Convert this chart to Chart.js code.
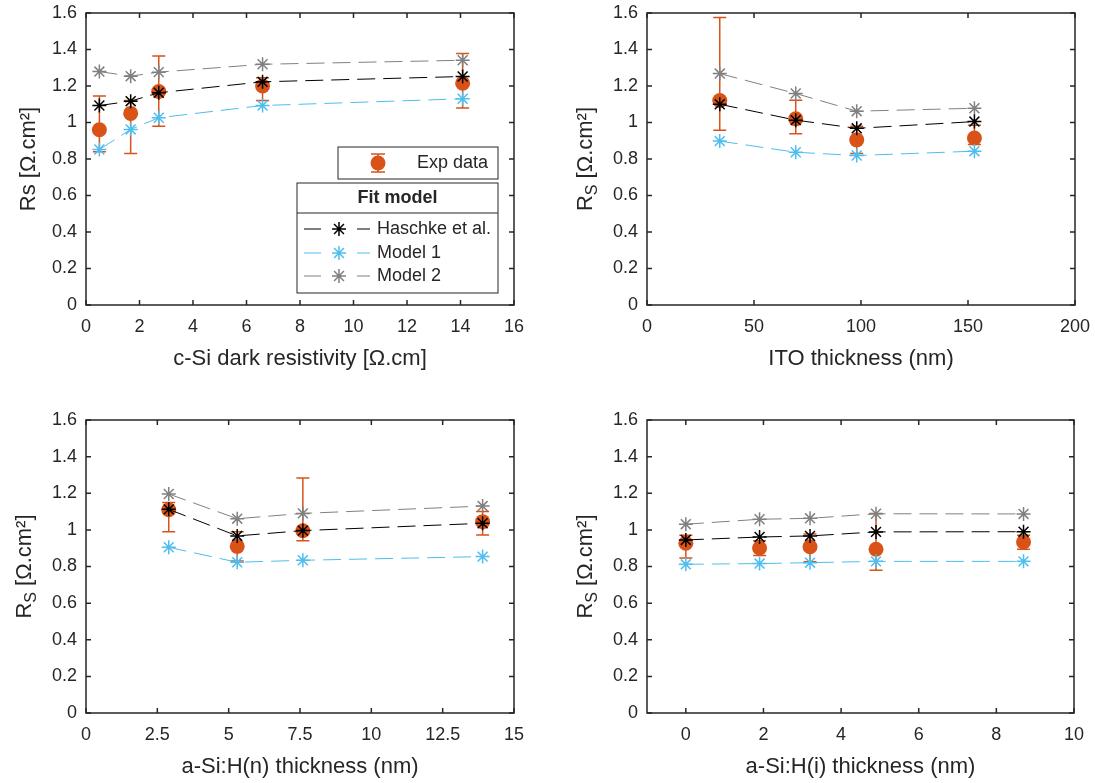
<!DOCTYPE html>
<html>
<head>
<meta charset="utf-8">
<script src="https://cdn.jsdelivr.net/npm/chart.js@4.4.1/dist/chart.umd.min.js"></script>
<style>
  html, body { margin: 0; padding: 0; background: #fff; overflow: hidden; }
  .stage { position: relative; width: 1095px; height: 783px; overflow: hidden; }
  canvas { position: absolute; }
</style>
</head>
<body>
<div class="stage">
  <canvas id="c1" width="547" height="391" style="left:0;top:0"></canvas>
  <canvas id="c2" width="548" height="391" style="left:547px;top:0"></canvas>
  <canvas id="c3" width="547" height="392" style="left:0;top:391px"></canvas>
  <canvas id="c4" width="548" height="392" style="left:547px;top:391px"></canvas>
</div>
<script>
// shared y axis
const yTicks = [0, 0.2, 0.4, 0.6, 0.8, 1, 1.2, 1.4, 1.6];

// c-Si dark resistivity
const rhoX = [0.5, 1.67, 2.72, 6.6, 14.08];
const rhoExp = [0.96, 1.05, 1.17, 1.2, 1.215];
const rhoExpLow = [0.84, 0.83, 0.98, 1.12, 1.08];
const rhoExpHigh = [1.145, 1.12, 1.365, 1.245, 1.378];
const rhoHaschke = [1.093, 1.117, 1.163, 1.223, 1.252];
const rhoModel1 = [0.852, 0.962, 1.026, 1.093, 1.13];
const rhoModel2 = [1.279, 1.254, 1.276, 1.319, 1.341];
const rhoTicks = [0, 2, 4, 6, 8, 10, 12, 14, 16];

// ITO thickness
const itoX = [34, 69.5, 98, 153];
const itoExp = [1.12, 1.02, 0.905, 0.915];
const itoExpLow = [0.958, 0.938, 0.83, 0.88];
const itoExpHigh = [1.575, 1.122, 0.98, 0.985];
const itoHaschke = [1.1, 1.013, 0.968, 1.005];
const itoModel1 = [0.898, 0.837, 0.819, 0.843];
const itoModel2 = [1.268, 1.159, 1.062, 1.078];
const itoTicks = [0, 50, 100, 150, 200];

// a-Si:H(n) thickness
const nX = [2.9, 5.3, 7.6, 13.9];
const nExp = [1.11, 0.91, 0.995, 1.045];
const nExpLow = [0.99, 0.83, 0.94, 0.972];
const nExpHigh = [1.15, 0.99, 1.283, 1.101];
const nHaschke = [1.112, 0.967, 0.996, 1.036];
const nModel1 = [0.905, 0.823, 0.834, 0.854];
const nModel2 = [1.196, 1.061, 1.09, 1.13];
const nTicks = [0, 2.5, 5, 7.5, 10, 12.5, 15];

// a-Si:H(i) thickness
const iX = [0, 1.9, 3.2, 4.9, 8.7];
const iExp = [0.927, 0.901, 0.908, 0.894, 0.934];
const iExpLow = [0.847, 0.86, 0.826, 0.779, 0.894];
const iExpHigh = [0.97, 0.94, 0.978, 1.09, 0.97];
const iHaschke = [0.945, 0.961, 0.967, 0.989, 0.99];
const iModel1 = [0.812, 0.816, 0.821, 0.828, 0.828];
const iModel2 = [1.031, 1.058, 1.063, 1.088, 1.087];
const iTicks = [0, 2, 4, 6, 8, 10];

const FONT = '"Liberation Sans", Arial, Helvetica, sans-serif';
const AXIS_COLOR = '#262626';
const EXP_COLOR = '#D95319';
const HASCHKE_COLOR = '#000000';
const MODEL1_COLOR = '#4DBEEE';
const MODEL2_COLOR = '#808080';
const TICK_SIZE = 18;
const LABEL_SIZE = 22;

const panels = [
  {
    canvas: 'c1', xs: rhoX, exp: rhoExp, low: rhoExpLow, high: rhoExpHigh,
    haschke: rhoHaschke, model1: rhoModel1, model2: rhoModel2,
    xMin: 0, xMax: 16, xTicks: rhoTicks,
    xTitle: 'c-Si dark resistivity [Ω.cm]',
    yTitle: [{ text: 'Rs [Ω.cm²]' }], yTitleGap: 51,
    legend: true,
    area: { left: 86, right: 514, top: 13, bottom: 305 },
  },
  {
    canvas: 'c2', xs: itoX, exp: itoExp, low: itoExpLow, high: itoExpHigh,
    haschke: itoHaschke, model1: itoModel1, model2: itoModel2,
    xMin: 0, xMax: 200, xTicks: itoTicks,
    xTitle: 'ITO thickness (nm)',
    yTitle: [{ text: 'R' }, { text: 'S', sub: true }, { text: ' [Ω.cm²]' }], yTitleGap: 55,
    legend: false,
    area: { left: 100, right: 528, top: 13, bottom: 305 },
  },
  {
    canvas: 'c3', xs: nX, exp: nExp, low: nExpLow, high: nExpHigh,
    haschke: nHaschke, model1: nModel1, model2: nModel2,
    xMin: 0, xMax: 15, xTicks: nTicks,
    xTitle: 'a-Si:H(n) thickness (nm)',
    yTitle: [{ text: 'R' }, { text: 'S', sub: true }, { text: ' [Ω.cm²]' }], yTitleGap: 55,
    legend: false,
    area: { left: 86, right: 514, top: 29, bottom: 322 },
  },
  {
    canvas: 'c4', xs: iX, exp: iExp, low: iExpLow, high: iExpHigh,
    haschke: iHaschke, model1: iModel1, model2: iModel2,
    xMin: -1, xMax: 10, xTicks: iTicks,
    xTitle: 'a-Si:H(i) thickness (nm)',
    yTitle: [{ text: 'R' }, { text: 'S', sub: true }, { text: ' [Ω.cm²]' }], yTitleGap: 55,
    legend: false,
    area: { left: 100, right: 527, top: 29, bottom: 322 },
  },
];

const toPoints = (xs, ys) => xs.map((x, i) => ({ x, y: ys[i] }));

const fitDataset = (label, xs, ys, color) => ({
  label,
  data: toPoints(xs, ys),
  showLine: true,
  borderColor: color,
  backgroundColor: color,
  borderWidth: 1,
  borderDash: [18, 8],
  pointStyle: 'star',
  pointRadius: 7,
  pointBorderWidth: 1.5,
  pointBorderColor: color,
  pointBackgroundColor: color,
  order: 1,
});

const drawStar = (ctx, color, x, y) => {
  ctx.strokeStyle = color;
  ctx.fillStyle = color;
  ctx.lineWidth = 1.5;
  Chart.helpers.drawPoint(ctx, { pointStyle: 'star', radius: 7, rotation: 0, borderWidth: 1.5 }, x, y);
};

const drawLegend = (ctx, area) => {
  const right = area.right - 16;
  const expLeft = right - 160;
  const fitLeft = right - 201;

  ctx.save();
  ctx.lineWidth = 1;
  ctx.strokeStyle = AXIS_COLOR;
  ctx.fillStyle = '#fff';
  ctx.fillRect(expLeft, area.top + 134, right - expLeft, 32);
  ctx.strokeRect(expLeft, area.top + 134, right - expLeft, 32);
  ctx.fillRect(fitLeft, area.top + 170, right - fitLeft, 110);
  ctx.strokeRect(fitLeft, area.top + 170, right - fitLeft, 110);
  ctx.beginPath();
  ctx.moveTo(fitLeft, area.top + 200);
  ctx.lineTo(right, area.top + 200);
  ctx.stroke();

  // exp data entry
  const mx = expLeft + 40;
  const my = area.top + 150;
  ctx.strokeStyle = EXP_COLOR;
  ctx.lineWidth = 1.5;
  ctx.beginPath();
  ctx.moveTo(mx, my - 9); ctx.lineTo(mx, my + 9);
  ctx.moveTo(mx - 7, my - 9); ctx.lineTo(mx + 7, my - 9);
  ctx.moveTo(mx - 7, my + 9); ctx.lineTo(mx + 7, my + 9);
  ctx.stroke();
  ctx.fillStyle = EXP_COLOR;
  ctx.beginPath();
  ctx.arc(mx, my, 7.5, 0, Math.PI * 2);
  ctx.fill();

  ctx.fillStyle = AXIS_COLOR;
  ctx.textBaseline = 'middle';
  ctx.textAlign = 'left';
  ctx.font = `${TICK_SIZE}px ${FONT}`;
  ctx.fillText('Exp data', expLeft + 79, my);

  ctx.textAlign = 'center';
  ctx.font = `bold ${TICK_SIZE}px ${FONT}`;
  ctx.fillText('Fit model', (fitLeft + right) / 2, area.top + 185);

  const entries = [
    ['Haschke et al.', HASCHKE_COLOR, 216],
    ['Model 1', MODEL1_COLOR, 240],
    ['Model 2', MODEL2_COLOR, 263],
  ];
  entries.forEach(([label, color, dy]) => {
    const y = area.top + dy;
    ctx.strokeStyle = color;
    ctx.lineWidth = 1;
    ctx.beginPath();
    ctx.moveTo(fitLeft + 7, y); ctx.lineTo(fitLeft + 24, y);
    ctx.moveTo(fitLeft + 60, y); ctx.lineTo(fitLeft + 73, y);
    ctx.stroke();
    drawStar(ctx, color, fitLeft + 42, y);
    ctx.fillStyle = AXIS_COLOR;
    ctx.textAlign = 'left';
    ctx.font = `${TICK_SIZE}px ${FONT}`;
    ctx.fillText(label, fitLeft + 80, y);
  });
  ctx.restore();
};

const drawYTitle = (ctx, parts, x, y) => {
  ctx.save();
  ctx.translate(x, y);
  ctx.rotate(-Math.PI / 2);
  ctx.fillStyle = AXIS_COLOR;
  ctx.textBaseline = 'alphabetic';
  ctx.textAlign = 'left';
  const fontFor = (p) => `${p.sub ? 16 : LABEL_SIZE}px ${FONT}`;
  const widths = parts.map((p) => {
    ctx.font = fontFor(p);
    return ctx.measureText(p.text).width;
  });
  let cursor = -widths.reduce((a, b) => a + b, 0) / 2;
  parts.forEach((p, i) => {
    ctx.font = fontFor(p);
    ctx.fillText(p.text, cursor, p.sub ? 5 : 0);
    cursor += widths[i];
  });
  ctx.restore();
};

const axesPlugin = (panel) => ({
  id: 'matlabAxes',
  beforeDatasetsDraw(chart) {
    const { ctx, scales: { x, y } } = chart;
    ctx.save();
    ctx.strokeStyle = EXP_COLOR;
    ctx.lineWidth = 1.5;
    panel.xs.forEach((xv, i) => {
      const px = x.getPixelForValue(xv);
      const top = y.getPixelForValue(panel.high[i]);
      const bottom = y.getPixelForValue(panel.low[i]);
      ctx.beginPath();
      ctx.moveTo(px, top); ctx.lineTo(px, bottom);
      ctx.moveTo(px - 6.5, top); ctx.lineTo(px + 6.5, top);
      ctx.moveTo(px - 6.5, bottom); ctx.lineTo(px + 6.5, bottom);
      ctx.stroke();
    });
    ctx.restore();
  },
  afterDraw(chart) {
    const { ctx, chartArea: area, scales: { x, y } } = chart;
    ctx.save();
    ctx.strokeStyle = AXIS_COLOR;
    ctx.lineWidth = 1.5;
    ctx.strokeRect(area.left, area.top, area.right - area.left, area.bottom - area.top);
    ctx.beginPath();
    x.ticks.forEach((t) => {
      const px = x.getPixelForValue(t.value);
      ctx.moveTo(px, area.bottom); ctx.lineTo(px, area.bottom - 5);
      ctx.moveTo(px, area.top); ctx.lineTo(px, area.top + 5);
    });
    y.ticks.forEach((t) => {
      const py = y.getPixelForValue(t.value);
      ctx.moveTo(area.left, py); ctx.lineTo(area.left + 5, py);
      ctx.moveTo(area.right, py); ctx.lineTo(area.right - 5, py);
    });
    ctx.stroke();

    ctx.fillStyle = AXIS_COLOR;
    ctx.font = `${LABEL_SIZE}px ${FONT}`;
    ctx.textAlign = 'center';
    ctx.textBaseline = 'alphabetic';
    ctx.fillText(panel.xTitle, (area.left + area.right) / 2, area.bottom + 60);
    ctx.restore();

    drawYTitle(ctx, panel.yTitle, area.left - panel.yTitleGap, (area.top + area.bottom) / 2);
    if (panel.legend) {
      drawLegend(ctx, area);
    }
  },
});

const tickFont = { family: FONT, size: TICK_SIZE };

const initPanel = (panel) => {
  const canvas = document.getElementById(panel.canvas);
  const { area } = panel;
  new Chart(canvas, {
    type: 'scatter',
    data: {
      datasets: [
        {
          label: 'Exp data',
          data: toPoints(panel.xs, panel.exp),
          showLine: false,
          pointStyle: 'circle',
          pointRadius: 7.5,
          pointBorderWidth: 0,
          pointBackgroundColor: EXP_COLOR,
          backgroundColor: EXP_COLOR,
          order: 2,
        },
        fitDataset('Haschke et al.', panel.xs, panel.haschke, HASCHKE_COLOR),
        fitDataset('Model 1', panel.xs, panel.model1, MODEL1_COLOR),
        fitDataset('Model 2', panel.xs, panel.model2, MODEL2_COLOR),
      ],
    },
    options: {
      responsive: false,
      animation: false,
      events: [],
      layout: {
        padding: { left: 0, top: area.top, right: canvas.width - area.right, bottom: 0 },
      },
      plugins: {
        legend: { display: false },
        tooltip: { enabled: false },
      },
      scales: {
        x: {
          type: 'linear',
          min: panel.xMin,
          max: panel.xMax,
          afterBuildTicks: (scale) => { scale.ticks = panel.xTicks.map((v) => ({ value: v })); },
          afterFit: (scale) => {
            scale.height = canvas.height - area.bottom;
            scale.paddingLeft = 0;
            scale.paddingRight = 0;
          },
          grid: { display: false, drawTicks: false },
          border: { display: false },
          ticks: {
            color: AXIS_COLOR, font: tickFont, padding: 11,
            maxRotation: 0, autoSkip: false, callback: (v) => String(v),
          },
        },
        y: {
          type: 'linear',
          min: 0,
          max: 1.6,
          afterBuildTicks: (scale) => { scale.ticks = yTicks.map((v) => ({ value: v })); },
          afterFit: (scale) => {
            scale.width = area.left;
            scale.paddingTop = 0;
            scale.paddingBottom = 0;
          },
          grid: { display: false, drawTicks: false },
          border: { display: false },
          ticks: {
            color: AXIS_COLOR, font: tickFont, padding: 9,
            autoSkip: false, callback: (v) => String(v),
          },
        },
      },
    },
    plugins: [axesPlugin(panel)],
  });
};

panels.forEach((panel) => initPanel(panel));
</script>
</body>
</html>
